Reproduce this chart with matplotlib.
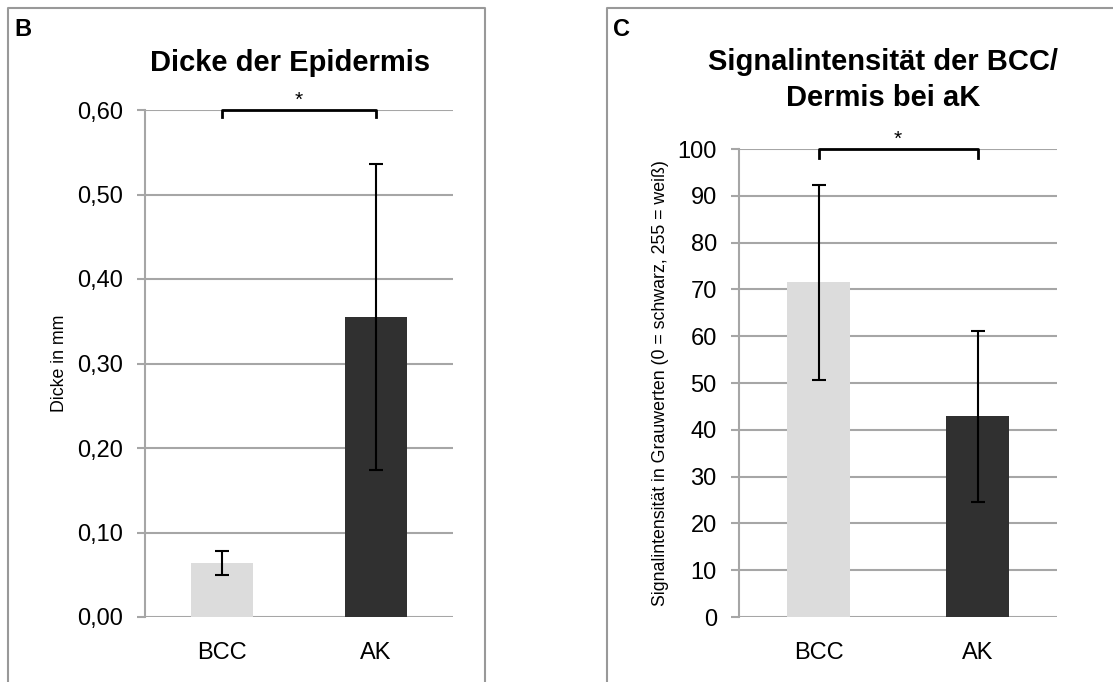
import matplotlib
matplotlib.use("Agg")
import matplotlib.pyplot as plt
from matplotlib.lines import Line2D

plt.rcParams['font.family'] = ['Liberation Sans', 'DejaVu Sans']

categories = ["BCC", "AK"]

# Panel B: epidermis thickness
thick_mean = [0.064, 0.355]
thick_err = [0.014, 0.181]
thick_ticks = [0.0, 0.1, 0.2, 0.3, 0.4, 0.5, 0.6]
thick_labels = ["0,00", "0,10", "0,20", "0,30", "0,40", "0,50", "0,60"]

# Panel C: signal intensity
signal_mean = [71.5, 42.9]
signal_err = [20.9, 18.3]
signal_ticks = [0, 10, 20, 30, 40, 50, 60, 70, 80, 90, 100]

bar_colors = ["#dcdcdc", "#303030"]
grid_col = "#a6a6a6"


def style_axis(ax, ticks, labels, top):
    ax.set_xlim(0, 2)
    ax.set_ylim(0, top)
    ax.set_yticks(ticks)
    ax.set_yticklabels(labels, fontsize=17)
    ax.set_xticks([0.5, 1.5])
    ax.set_xticklabels(categories, fontsize=17)
    ax.tick_params(axis='x', length=0, pad=18)
    ax.tick_params(axis='y', length=6, width=1.5, color=grid_col, pad=10)
    for side in ["top", "right", "bottom"]:
        ax.spines[side].set_visible(False)
    ax.spines["left"].set_color(grid_col)
    ax.spines["left"].set_linewidth(1.5)
    ax.yaxis.grid(True, color=grid_col, linewidth=1.5)
    ax.set_axisbelow(True)


def draw_bars(ax, means, errs):
    ax.bar([0.5, 1.5], means, width=0.4, color=bar_colors, zorder=2)
    ax.errorbar([0.5, 1.5], means, yerr=errs, fmt='none', ecolor='black',
                elinewidth=1.5, capsize=5, capthick=1.5, zorder=3)


def bracket(ax, y, drop):
    ax.plot([0.5, 0.5, 1.5, 1.5], [y - drop, y, y, y - drop], color='black',
            linewidth=2, clip_on=False, zorder=4)
    ax.text(1.0, y, "*", ha='center', va='bottom', fontsize=15)


def side_label(ax, text, xpos):
    ax.set_ylabel(text, fontsize=12.8)
    ax.yaxis.set_label_coords(xpos, 0.5)
    ax.yaxis.label.set_va('center')


fig = plt.figure(figsize=(11.13, 6.82), dpi=100)
W, H = 1113.0, 682.0

# panel frames
for xs, ys in [([8, 8, 485, 485], [690, 8, 8, 690]),
               ([607, 607, 1120], [690, 8, 8])]:
    fig.add_artist(Line2D([x / W for x in xs], [1 - y / H for y in ys],
                          color="#999999", linewidth=1.5, transform=fig.transFigure))

# Panel B
axb = fig.add_axes([145 / W, 1 - 617 / H, 308 / W, 507 / H])
style_axis(axb, thick_ticks, thick_labels, 0.6)
draw_bars(axb, thick_mean, thick_err)
bracket(axb, 0.6, 0.008)
side_label(axb, "Dicke in mm", -0.276)
fig.text(290 / W, 1 - 63 / H, "Dicke der Epidermis", ha='center', va='center',
         fontsize=21, fontweight='bold')
fig.text(14 / W, 1 - 30 / H, "B", ha='left', va='center', fontsize=17, fontweight='bold')

# Panel C
axc = fig.add_axes([739 / W, 1 - 617 / H, 318 / W, 468 / H])
style_axis(axc, signal_ticks, [str(t) for t in signal_ticks], 100)
draw_bars(axc, signal_mean, signal_err)
bracket(axc, 100, 2)
side_label(axc, "Signalintensität in Grauwerten (0 = schwarz, 255 = weiß)", -0.248)
fig.text(883 / W, 1 - 80 / H, "Signalintensität der BCC/\nDermis bei aK", ha='center',
         va='center', fontsize=21, fontweight='bold', linespacing=1.35)
fig.text(613 / W, 1 - 30 / H, "C", ha='left', va='center', fontsize=17, fontweight='bold')

fig.savefig("out.png", dpi=100)
